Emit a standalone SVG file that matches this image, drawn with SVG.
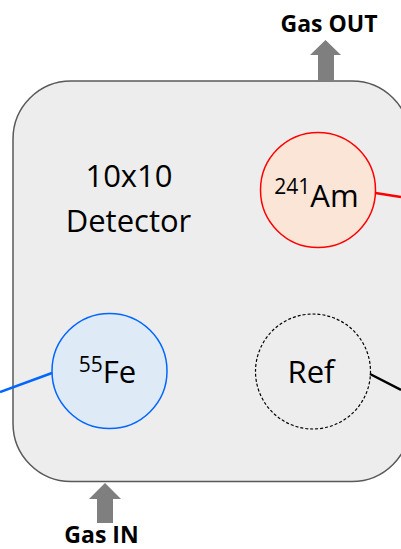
<svg xmlns="http://www.w3.org/2000/svg" width="401" height="549" viewBox="0 0 401 549">
  <style>
    .lbl { font-family: "Open Sans", "Liberation Sans", sans-serif; fill: #000; }
    .big { font-size: 31px; }
    .sup { font-size: 21px; }
    .bold { font-family: "Open Sans", "Liberation Sans", sans-serif; font-weight: bold; font-size: 23px; fill: #000; }
    .arrow { fill: #7f7f7f; }
    .conn { stroke-width: 2.5; fill: none; }
  </style>
  <rect width="401" height="549" fill="#ffffff"/>
  <g id="detector">
    <rect x="13" y="81" width="397" height="400.5" rx="58" ry="58" fill="#ededed" stroke="#595959" stroke-width="1.5"/>
    <text class="lbl big" x="129" y="187" text-anchor="middle">10x10</text>
    <text class="lbl big" x="128.5" y="232" text-anchor="middle">Detector</text>
  </g>
  <g id="connectors">
    <line class="conn" x1="375.5" y1="193" x2="401" y2="197" stroke="#ff0000"/>
    <line class="conn" x1="52" y1="373" x2="0" y2="392" stroke="#0066ff"/>
    <line class="conn" x1="370" y1="374" x2="401" y2="390" stroke="#000000"/>
  </g>
  <g id="am241">
    <circle cx="318" cy="190" r="57.5" fill="#fbe5d6" stroke="#ff0000" stroke-width="1.5"/>
    <text class="lbl big" x="316.5" y="207" text-anchor="middle"><tspan class="sup" dy="-13">241</tspan><tspan dy="13">Am</tspan></text>
  </g>
  <g id="fe55">
    <circle cx="109.5" cy="371" r="57.5" fill="#deebf7" stroke="#0066ff" stroke-width="1.5"/>
    <text class="lbl big" x="107.5" y="383" text-anchor="middle"><tspan class="sup" dy="-11">55</tspan><tspan dy="11">Fe</tspan></text>
  </g>
  <g id="ref">
    <circle cx="313" cy="371.5" r="57.5" fill="none" stroke="#000000" stroke-width="1.2" stroke-dasharray="3 2"/>
    <text class="lbl big" x="311" y="383" text-anchor="middle">Ref</text>
  </g>
  <g id="gas-out">
    <polygon class="arrow" points="310,55 325.5,40 341,55 334,55 334,81 318,81 318,55"/>
    <text class="bold" x="329" y="32" text-anchor="middle">Gas OUT</text>
  </g>
  <g id="gas-in">
    <polygon class="arrow" points="89,499 105,483 121,499 113,499 113,523 97,523 97,499"/>
    <text class="bold" x="101.5" y="543" text-anchor="middle">Gas IN</text>
  </g>
</svg>
